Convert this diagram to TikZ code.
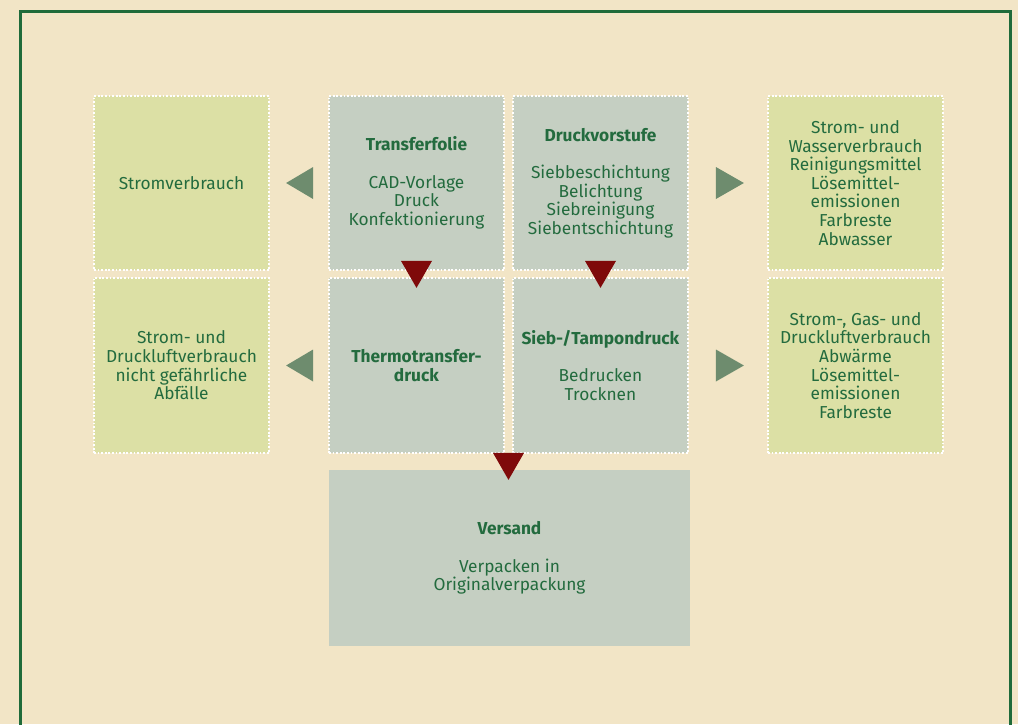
\documentclass[tikz,border=0pt]{standalone}
\usepackage{fontspec}
\setmainfont{Fira Sans}
\usetikzlibrary{calc}
\definecolor{bgcream}{HTML}{F2E5C6}
\definecolor{framegreen}{HTML}{1F6B3A}
\definecolor{txtgreen}{HTML}{236B3E}
\definecolor{lightbox}{HTML}{DCE0A5}
\definecolor{graybox}{HTML}{C5CFC2}
\definecolor{arrowred}{HTML}{7F0A0A}
\definecolor{arrowgray}{HTML}{6E8C6E}
\tikzset{
  basebox/.style={inner sep=0pt, minimum width=175pt, minimum height=174pt, align=center,
    text=txtgreen, font=\fontsize{17.3}{18.6}\selectfont},
  dotbox/.style={basebox, draw=white, line width=1.8pt, dash pattern=on 1.8pt off 1.8pt},
  resbox/.style={dotbox, fill=lightbox},
  procbox/.style={dotbox, fill=graybox},
  downtri/.style={fill=arrowred},
  sidetri/.style={fill=arrowgray}
}
\begin{document}
\begin{tikzpicture}[x=1pt,y=-1pt]
\fill[bgcream] (0,0) rectangle (1018,724);
\useasboundingbox (0,0) rectangle (1018,724);
\draw[framegreen, line width=2.6pt] (20.5,730) -- (20.5,11.5) -- (1010.5,11.5) -- (1010.5,730);

\node[resbox] (L1) at (181.5,183) {Stromverbrauch};
\node[resbox, minimum height=175pt] (L2) at (181.5,365.5) {Strom- und\\Druckluftverbrauch\\nicht gefährliche\\Abfälle};
\node[procbox] (T1) at (416.5,183) {\textbf{Transferfolie}\\[18.6pt]CAD-Vorlage\\Druck\\Konfektionierung};
\node[procbox] (T2) at (600.5,183) {\textbf{Druckvorstufe}\\[18.6pt]Siebbeschichtung\\Belichtung\\Siebreinigung\\Siebentschichtung};
\node[procbox, minimum height=175pt] (M1) at (416.5,365.5) {\textbf{Thermotransfer-}\\\textbf{druck}};
\node[procbox, minimum height=175pt] (M2) at (600.5,365.5) {\textbf{Sieb-/Tampondruck}\\[18.6pt]Bedrucken\\Trocknen};
\node[resbox] (R1) at (855.5,183) {Strom- und\\Wasserverbrauch\\Reinigungsmittel\\Lösemittel-\\emissionen\\Farbreste\\Abwasser};
\node[resbox, minimum height=175pt] (R2) at (855.5,365.5) {Strom-, Gas- und\\Druckluftverbrauch\\Abwärme\\Lösemittel-\\emissionen\\Farbreste};
\node[basebox, fill=graybox, minimum width=361pt, minimum height=176pt] (V) at (509.5,558) {\textbf{Versand}\\[18.6pt]Verpacken in\\Originalverpackung};

% red down arrows
\fill[downtri] ($(T1.south)+(-15.5,-10)$) -- ($(T1.south)+(15.5,-10)$) -- ($(T1.south)+(0,17)$) -- cycle;
\fill[downtri] ($(T2.south)+(-15.5,-10)$) -- ($(T2.south)+(15.5,-10)$) -- ($(T2.south)+(0,17)$) -- cycle;
\coordinate (mid) at ($(M1.south east)!0.5!(M2.south west)$);
\fill[downtri] ($(mid)+(-15.5,-1)$) -- ($(mid)+(15.5,-1)$) -- ($(mid)+(0,26)$) -- cycle;

% gray side arrows
\fill[sidetri] ($(T1.west)+(-42,0)$) -- ($(T1.west)+(-15,-16)$) -- ($(T1.west)+(-15,16)$) -- cycle;
\fill[sidetri] ($(M1.west)+(-42,0)$) -- ($(M1.west)+(-15,-16)$) -- ($(M1.west)+(-15,16)$) -- cycle;
\fill[sidetri] ($(T2.east)+(55,0)$) -- ($(T2.east)+(27,-16)$) -- ($(T2.east)+(27,16)$) -- cycle;
\fill[sidetri] ($(M2.east)+(55,0)$) -- ($(M2.east)+(27,-16)$) -- ($(M2.east)+(27,16)$) -- cycle;
\end{tikzpicture}
\end{document}
